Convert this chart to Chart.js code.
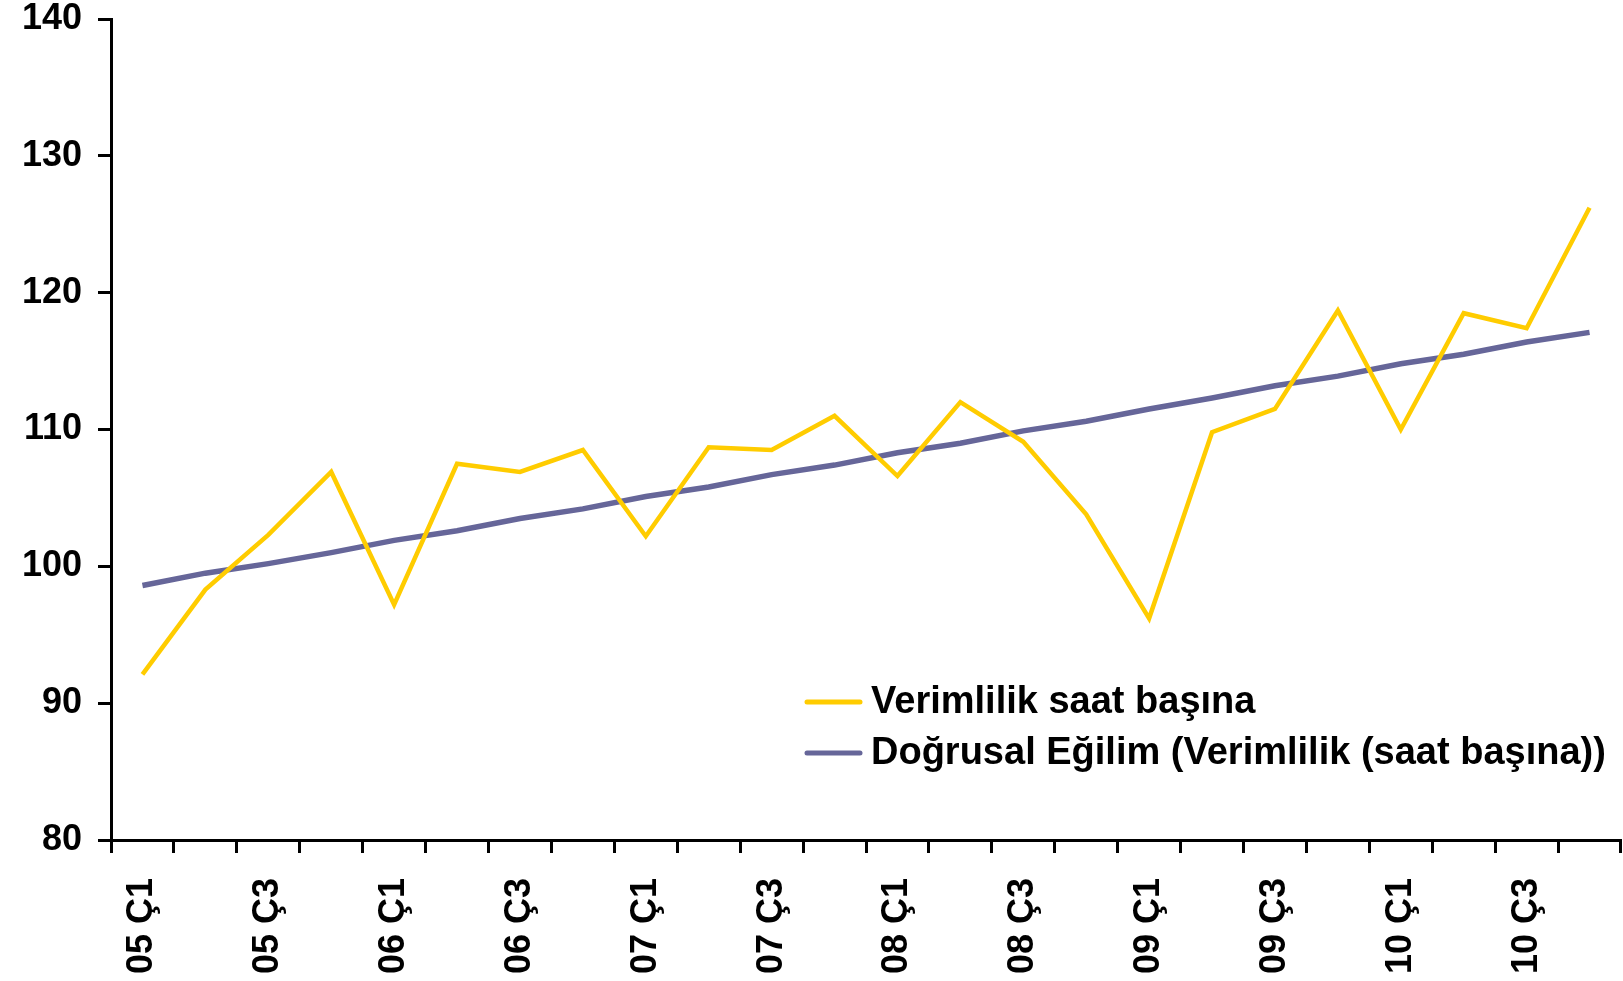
<!DOCTYPE html>
<html lang="tr">
<head>
    <meta charset="UTF-8">
    <title>Verimlilik saat başına</title>
    <style>
        html, body { margin: 0; padding: 0; background: #fff; }
        #wrap { width: 1623px; height: 981px; }
    </style>
</head>
<body>
    <div id="wrap"><canvas id="chart" width="1623" height="981"></canvas></div>
    <script src="https://cdn.jsdelivr.net/npm/chart.js"></script>
    <script>
        const quarters = [
            '05 Ç1', '05 Ç2', '05 Ç3', '05 Ç4',
            '06 Ç1', '06 Ç2', '06 Ç3', '06 Ç4',
            '07 Ç1', '07 Ç2', '07 Ç3', '07 Ç4',
            '08 Ç1', '08 Ç2', '08 Ç3', '08 Ç4',
            '09 Ç1', '09 Ç2', '09 Ç3', '09 Ç4',
            '10 Ç1', '10 Ç2', '10 Ç3', '10 Ç4'
        ];
        const verimlilik = [
            92.1, 98.3, 102.3, 106.9, 97.2, 107.5, 106.9, 108.5,
            102.2, 108.7, 108.5, 111.0, 106.6, 112.0, 109.1, 103.8,
            96.2, 109.8, 111.5, 118.7, 110.0, 118.5, 117.4, 126.2
        ];
        const egilim = [
            98.6, 99.5, 100.2, 101.0, 101.9, 102.6, 103.5, 104.2,
            105.1, 105.8, 106.7, 107.4, 108.3, 109.0, 109.9, 110.6,
            111.5, 112.3, 113.2, 113.9, 114.8, 115.5, 116.4, 117.1
        ];
        const yTicks = [80, 90, 100, 110, 120, 130, 140];
        const seriesNames = ['Verimlilik saat başına', 'Doğrusal Eğilim (Verimlilik (saat başına))'];

        const FONT = '"Liberation Sans", Arial, sans-serif';

        // legend drawn inside the plot area, bottom right
        const insideLegend = {
            id: 'insideLegend',
            afterDraw(chart) {
                const ctx = chart.ctx;
                ctx.save();
                ctx.font = 'bold 38px ' + FONT;
                ctx.textBaseline = 'middle';
                ctx.fillStyle = '#000';
                chart.data.datasets.forEach((ds, i) => {
                    const y = 702 + i * 51;
                    ctx.strokeStyle = ds.borderColor;
                    ctx.lineWidth = 5;
                    ctx.lineCap = 'round';
                    ctx.beginPath();
                    ctx.moveTo(807, y);
                    ctx.lineTo(860, y);
                    ctx.stroke();
                    ctx.fillText(ds.label, 871, y + 1);
                });
                ctx.restore();
            }
        };

        document.addEventListener('DOMContentLoaded', function() {
            const ctx = document.getElementById('chart').getContext('2d');
            new Chart(ctx, {
                type: 'line',
                data: {
                    labels: quarters,
                    datasets: [{
                        label: seriesNames[0],
                        data: verimlilik,
                        borderColor: '#FFCC00',
                        borderWidth: 4.5,
                        pointRadius: 0,
                        tension: 0
                    }, {
                        label: seriesNames[1],
                        data: egilim,
                        borderColor: '#666699',
                        borderWidth: 5.5,
                        pointRadius: 0,
                        tension: 0
                    }]
                },
                options: {
                    responsive: false,
                    animation: false,
                    layout: { padding: { top: 19, right: 2, left: 0, bottom: 0 } },
                    plugins: {
                        legend: { display: false },
                        tooltip: { enabled: false }
                    },
                    scales: {
                        x: {
                            offset: true,
                            grid: {
                                offset: true,
                                drawOnChartArea: false,
                                tickLength: 13,
                                tickWidth: 3,
                                tickColor: '#000'
                            },
                            border: { color: '#000', width: 3 },
                            ticks: {
                                autoSkip: false,
                                minRotation: 90,
                                maxRotation: 90,
                                padding: 25,
                                color: '#000',
                                font: { family: FONT, size: 36, weight: 'bold' },
                                callback: function(v, i) { return i % 2 === 0 ? quarters[i] : ''; }
                            },
                            afterFit: function(scale) {
                                scale.height = 141;
                                scale.paddingLeft = 0;
                                scale.paddingRight = 0;
                            }
                        },
                        y: {
                            min: yTicks[0],
                            max: yTicks[yTicks.length - 1],
                            afterBuildTicks: function(scale) {
                                scale.ticks = yTicks.map(v => ({ value: v }));
                            },
                            grid: {
                                drawOnChartArea: false,
                                tickLength: 13,
                                tickWidth: 3,
                                tickColor: '#000'
                            },
                            border: { color: '#000', width: 3 },
                            ticks: {
                                padding: 16,
                                color: '#000',
                                font: { family: FONT, size: 36, weight: 'bold' }
                            },
                            afterFit: function(scale) {
                                scale.width = 111;
                                scale.paddingTop = 0;
                                scale.paddingBottom = 0;
                            }
                        }
                    }
                },
                plugins: [insideLegend]
            });
        });
    </script>
</body>
</html>
